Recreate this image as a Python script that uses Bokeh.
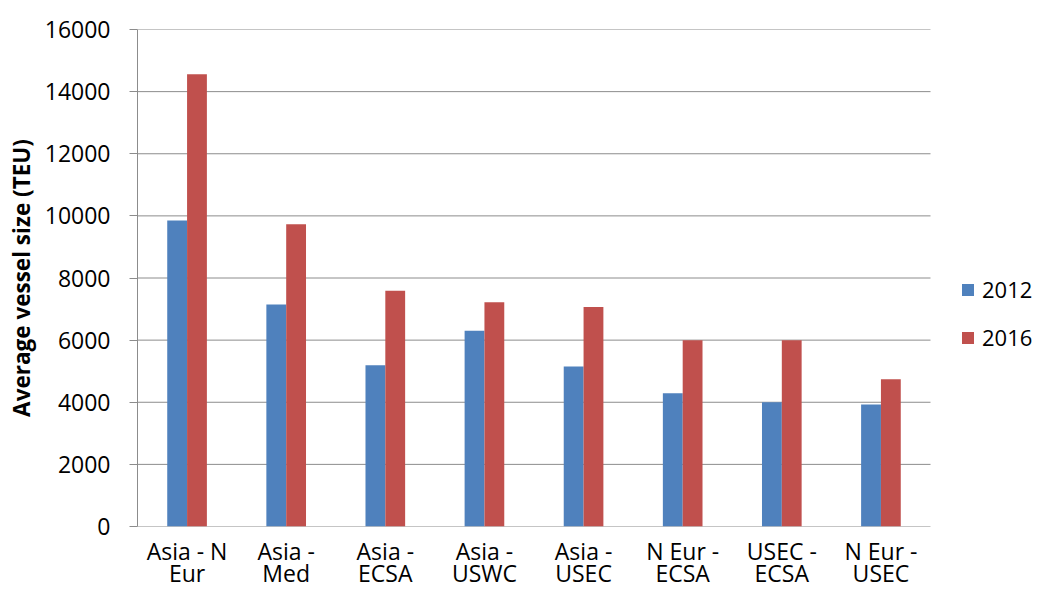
from bokeh.plotting import figure
from bokeh.models import (ColumnDataSource, Range1d, FixedTicker, LinearAxis,
                          Legend, LegendItem)
from bokeh.transform import dodge
from bokeh.embed import file_html
from bokeh.resources import INLINE

# ---- data ----
route_line1 = ["Asia - N", "Asia -", "Asia -", "Asia -", "Asia -", "N Eur -", "USEC -", "N Eur -"]
route_line2 = ["Eur", "Med", "ECSA", "USWC", "USEC", "ECSA", "ECSA", "USEC"]
size_2012 = [9850, 7150, 5190, 6300, 5150, 4290, 4000, 3930]
size_2016 = [14560, 9730, 7590, 7220, 7070, 6000, 6000, 4740]
series_names = ["2012", "2016"]
y_ticks = [0, 2000, 4000, 6000, 8000, 10000, 12000, 14000, 16000]

BLUE = "#4F81BD"
RED = "#C0504D"
GRID = "#8C8C8C"
FONT = "Open Sans"

n = len(route_line1)
idx = list(range(n))
src = ColumnDataSource(dict(x=idx, v2012=size_2012, v2016=size_2016))

# plot area extends right to host the legend; category slots keep the
# reference's width, the gridlines stop after the last category
W, H = 1032, 591
LEFT, TOP, BOTTOM = 137, 29, 65
slot_px = 99.125
x_end = -0.5 + (W - LEFT) / slot_px

p = figure(width=W, height=H, output_backend="svg", toolbar_location=None,
           x_range=Range1d(-0.5, x_end), y_range=Range1d(0, 16000),
           min_border_left=LEFT, min_border_right=0, min_border_top=TOP,
           min_border_bottom=BOTTOM)
p.outline_line_color = None
p.background_fill_color = "white"
p.border_fill_color = "white"
p.xgrid.grid_line_color = None
p.ygrid.grid_line_color = None

grid_src = ColumnDataSource(dict(y=y_ticks, x0=[-0.5] * len(y_ticks),
                                 x1=[n - 0.5] * len(y_ticks)))
g = p.segment(x0="x0", x1="x1", y0="y", y1="y", source=grid_src,
              line_color=GRID, line_width=1)
g.level = "underlay"

r1 = p.vbar(x=dodge("x", -0.1), top="v2012", width=0.2, source=src,
            fill_color=BLUE, line_color=None)
r2 = p.vbar(x=dodge("x", 0.1), top="v2016", width=0.2, source=src,
            fill_color=RED, line_color=None)

# y axis
ya = p.yaxis[0]
ya.ticker = FixedTicker(ticks=y_ticks)
ya.axis_line_color = GRID
ya.major_tick_line_color = GRID
ya.major_tick_out = 8
ya.major_tick_in = 0
ya.minor_tick_line_color = None
ya.major_label_standoff = 19
ya.major_label_text_font = FONT
ya.major_label_text_font_size = "23px"
ya.major_label_text_color = "#000000"
ya.axis_label = "Average vessel size (TEU)"
ya.axis_label_text_font = FONT
ya.axis_label_text_font_size = "22.5px"
ya.axis_label_text_font_style = "bold"
ya.axis_label_text_color = "#000000"
ya.axis_label_standoff = 5

# x axis: two stacked axes for wrapped category labels
xa = p.xaxis[0]
xa.ticker = FixedTicker(ticks=idx)
xa.major_label_overrides = {i: t for i, t in zip(idx, route_line1)}
xa.axis_line_color = None
xa.major_tick_line_color = None
xa.major_tick_out = 0
xa.major_tick_in = 0
xa.minor_tick_line_color = None
xa.major_label_standoff = 8
xa.major_label_text_font = FONT
xa.major_label_text_font_size = "23px"
xa.major_label_text_color = "#000000"

xa2 = LinearAxis(ticker=FixedTicker(ticks=idx),
                 major_label_overrides={i: t for i, t in zip(idx, route_line2)})
xa2.axis_line_color = None
xa2.major_tick_line_color = None
xa2.major_tick_out = 0
xa2.major_tick_in = 0
xa2.minor_tick_line_color = None
xa2.major_label_standoff = -13
xa2.major_label_text_font = FONT
xa2.major_label_text_font_size = "23px"
xa2.major_label_text_color = "#000000"
p.add_layout(xa2, "below")

legend = Legend(items=[LegendItem(label=series_names[0], renderers=[r1]),
                       LegendItem(label=series_names[1], renderers=[r2])],
                location=(823, 174), orientation="vertical")
legend.glyph_width = 15
legend.glyph_height = 15
legend.label_standoff = 7
legend.spacing = 18
legend.padding = 0
legend.margin = 0
legend.border_line_color = None
legend.background_fill_alpha = 0
legend.label_text_font = FONT
legend.label_text_font_size = "22px"
legend.label_text_color = "#000000"
p.add_layout(legend, "center")

open("out.html", "w").write(file_html(p, INLINE))
